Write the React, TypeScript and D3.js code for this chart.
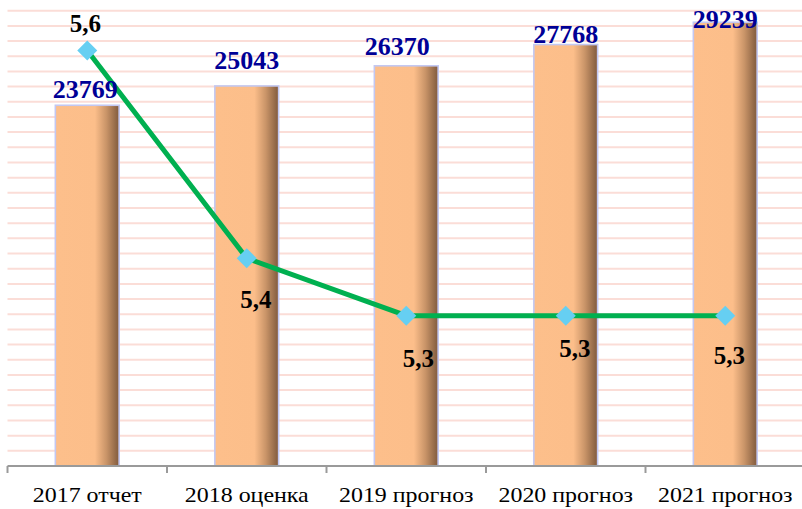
import React from 'react';
import * as d3 from 'd3';

// data
const categories = ['2017 отчет', '2018 оценка', '2019 прогноз', '2020 прогноз', '2021 прогноз'];
const amounts = [23769, 25043, 26370, 27768, 29239];
const rates = [5.6, 5.365, 5.3, 5.3, 5.3];

// layout tweaks for labels (hand placed in the original)
const barLabelShift = [[-2, -7], [0, -17], [-9, -11], [0, -2], [0, 6]];
const rateLabelShift = [[-2, -18], [9, 50], [12, 51], [9, 41], [4, 48]];

const W = 802;
const H = 509;
const left = 7.5;
const right = 805;
const bottom = 466;
const top = 10.7;
const serif = { fontFamily: '"Liberation Serif", "DejaVu Serif", serif' };

const App = () => {
  const x = d3.scaleBand<string>().domain(categories).range([left, right]).padding(0);
  const y = d3.scaleLinear().domain([0, 30000]).range([bottom, top]);
  const y2 = d3.scaleLinear().domain([5.13, 5.645]).range([bottom, top]);
  const bw = x.bandwidth() * 0.4;
  const cx = (c: string) => (x(c) as number) + x.bandwidth() / 2;

  const gridTicks = d3.range(1000, 30001, 1000);
  const line = d3.line<number>()
    .x((_, i) => cx(categories[i]))
    .y(d => y2(d));
  const diamond = d3.symbol().type(d3.symbolSquare).size(200)();
  const fmt = (v: number) => v.toFixed(1).replace('.', ',');
  const boundaries = categories.map(c => x(c) as number);

  return (
    <svg width={W} height={H} style={{ position: 'absolute', left: 0, top: 0, background: '#fff' }}>
      <defs>
        <linearGradient id="barGrad" x1="0" x2="1" y1="0" y2="0">
          <stop offset="0" stopColor="#FDBF8B" />
          <stop offset="0.62" stopColor="#FCBE8A" />
          <stop offset="0.8" stopColor="#C99468" />
          <stop offset="0.97" stopColor="#8A6243" />
          <stop offset="1" stopColor="#8A6243" />
        </linearGradient>
      </defs>

      {gridTicks.map(t => (
        <line key={t} x1={left} x2={W} y1={y(t)} y2={y(t)} stroke="#FBDDD7" strokeWidth={2} />
      ))}

      {categories.map((c, i) => {
        const bx = cx(c) - bw / 2;
        return (
          <rect key={c} x={bx} y={y(amounts[i])} width={bw} height={bottom - y(amounts[i])}
            fill="url(#barGrad)" stroke="#C3C8F2" strokeWidth={1.6} />
        );
      })}

      <line x1={left} x2={W} y1={bottom} y2={bottom} stroke="#9A9A9A" strokeWidth={2} />
      {boundaries.map(b => (
        <line key={b} x1={b} x2={b} y1={bottom} y2={bottom + 7} stroke="#9A9A9A" strokeWidth={2} />
      ))}

      {/* category labels are a little stretched sideways in the original */}
      {categories.map(c => (
        <text key={c} transform={`translate(${cx(c)},502) scale(1.14,1)`} textAnchor="middle"
          fontSize={21} fill="#000" style={serif}>{c}</text>
      ))}

      <path d={line(rates) || ''} fill="none" stroke="#00B050" strokeWidth={5} strokeLinejoin="round" />
      {rates.map((r, i) => (
        <path key={i} d={diamond || ''} fill="#66CFF2"
          transform={`translate(${cx(categories[i])},${y2(r)}) rotate(45)`} />
      ))}

      {amounts.map((v, i) => (
        <text key={i} x={cx(categories[i]) + barLabelShift[i][0]} y={y(v) + barLabelShift[i][1]}
          textAnchor="middle" fontSize={26} fontWeight="bold" fill="#000096" style={serif}>{v}</text>
      ))}

      {rates.map((r, i) => (
        <text key={i} x={cx(categories[i]) + rateLabelShift[i][0]} y={y2(r) + rateLabelShift[i][1]}
          textAnchor="middle" fontSize={25} fontWeight="bold" fill="#000" style={serif}>{fmt(r)}</text>
      ))}
    </svg>
  );
};

export default App;
